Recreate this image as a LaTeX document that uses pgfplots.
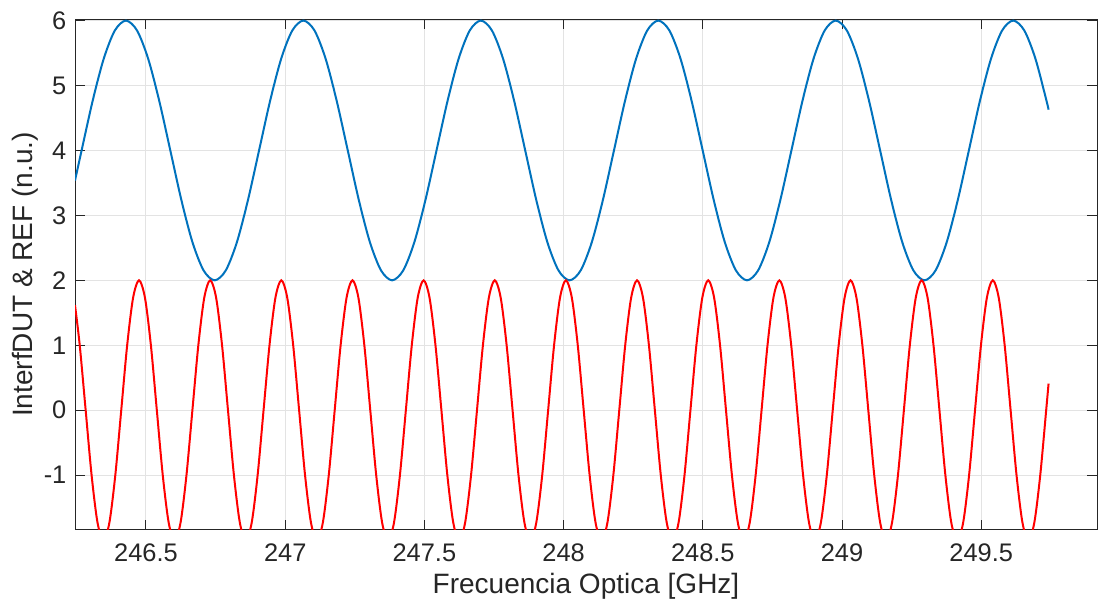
\documentclass[border=0pt]{standalone}
\usepackage{fontspec}
\setmainfont{Liberation Sans}
\usepackage{pgfplots}
\pgfplotsset{compat=1.18}
\definecolor{mblue}{rgb}{0,0.447,0.741}
\definecolor{axgray}{rgb}{0.15,0.15,0.15}
\begin{document}
\begin{tikzpicture}
\begin{axis}[
  scale only axis, width=511pt, height=255.25pt,
  xmin=246.245, xmax=249.916, ymin=-1.842, ymax=6.02,
  xtick={246.5,247,247.5,248,248.5,249,249.5},
  xticklabels={246.5,247,247.5,248,248.5,249,249.5},
  ytick={-1,0,1,2,3,4,5,6},
  yticklabels={-1,0,1,2,3,4,5,6},
  tick align=inside, major tick length=5pt,
  tick style={axgray, line width=0.5pt},
  axis line style={axgray, line width=0.5pt},
  grid=major, major grid style={color=black!11, line width=0.5pt},
  ticklabel style={font=\fontsize{12.7}{15}\selectfont, text=axgray},
  xticklabel style={yshift=-3.5pt},
  yticklabel style={xshift=-0.8pt},
  label style={font=\fontsize{14}{16}\selectfont, text=axgray},
  xlabel={Frecuencia Optica [GHz]},
  ylabel={InterfDUT \& REF (n.u.)},
  xlabel style={at={(axis description cs:0.5,-0.11)}, anchor=center},
  ylabel style={at={(axis description cs:-0.049,0.5)}, anchor=center},
]
\addplot[mblue, line width=1pt, smooth] table {
246.2450 3.5366
246.2687 4
246.3085 4.7654
246.3483 5.4142
246.3882 5.8478
246.4280 6
246.4678 5.8478
246.5077 5.4142
246.5475 4.7654
246.5874 4
246.6272 3.2346
246.6670 2.5858
246.7069 2.1522
246.7467 2
246.7865 2.1522
246.8264 2.5858
246.8662 3.2346
246.9061 4
246.9459 4.7654
246.9857 5.4142
247.0256 5.8478
247.0654 6
247.1052 5.8478
247.1451 5.4142
247.1849 4.7654
247.2248 4
247.2646 3.2346
247.3044 2.5858
247.3443 2.1522
247.3841 2
247.4239 2.1522
247.4638 2.5858
247.5036 3.2346
247.5435 4
247.5833 4.7654
247.6231 5.4142
247.6630 5.8478
247.7028 6
247.7426 5.8478
247.7825 5.4142
247.8223 4.7654
247.8622 4
247.9020 3.2346
247.9418 2.5858
247.9817 2.1522
248.0215 2
248.0613 2.1522
248.1012 2.5858
248.1410 3.2346
248.1809 4
248.2207 4.7654
248.2605 5.4142
248.3004 5.8478
248.3402 6
248.3800 5.8478
248.4199 5.4142
248.4597 4.7654
248.4996 4
248.5394 3.2346
248.5792 2.5858
248.6191 2.1522
248.6589 2
248.6987 2.1522
248.7386 2.5858
248.7784 3.2346
248.8183 4
248.8581 4.7654
248.8979 5.4142
248.9378 5.8478
248.9776 6
249.0174 5.8478
249.0573 5.4142
249.0971 4.7654
249.1370 4
249.1768 3.2346
249.2166 2.5858
249.2565 2.1522
249.2963 2
249.3361 2.1522
249.3760 2.5858
249.4158 3.2346
249.4557 4
249.4955 4.7654
249.5353 5.4142
249.5752 5.8478
249.6150 6
249.6548 5.8478
249.6947 5.4142
249.7345 4.7654
249.7420 4.628
};
\addplot[red, line width=1pt, smooth] table {
246.2450 1.618
246.2620 1
246.2833 0
246.3046 -1
246.3259 -1.732
246.3472 -2
246.3685 -1.732
246.3898 -1
246.4111 0
246.4324 1
246.4537 1.732
246.4750 2
246.4963 1.732
246.5176 1
246.5389 0
246.5602 -1
246.5815 -1.732
246.6028 -2
246.6241 -1.732
246.6454 -1
246.6667 0
246.6880 1
246.7093 1.732
246.7306 2
246.7519 1.732
246.7732 1
246.7945 0
246.8158 -1
246.8371 -1.732
246.8584 -2
246.8797 -1.732
246.9010 -1
246.9223 0
246.9436 1
246.9649 1.732
246.9861 2
247.0074 1.732
247.0287 1
247.0500 0
247.0713 -1
247.0926 -1.732
247.1139 -2
247.1352 -1.732
247.1565 -1
247.1778 0
247.1991 1
247.2204 1.732
247.2417 2
247.2630 1.732
247.2843 1
247.3056 0
247.3269 -1
247.3482 -1.732
247.3695 -2
247.3908 -1.732
247.4121 -1
247.4334 0
247.4547 1
247.4760 1.732
247.4972 2
247.5185 1.732
247.5398 1
247.5611 0
247.5824 -1
247.6037 -1.732
247.6250 -2
247.6463 -1.732
247.6676 -1
247.6889 0
247.7102 1
247.7315 1.732
247.7528 2
247.7741 1.732
247.7954 1
247.8167 0
247.8380 -1
247.8593 -1.732
247.8806 -2
247.9019 -1.732
247.9232 -1
247.9445 0
247.9658 1
247.9871 1.732
248.0083 2
248.0296 1.732
248.0509 1
248.0722 0
248.0935 -1
248.1148 -1.732
248.1361 -2
248.1574 -1.732
248.1787 -1
248.2000 0
248.2213 1
248.2426 1.732
248.2639 2
248.2852 1.732
248.3065 1
248.3278 0
248.3491 -1
248.3704 -1.732
248.3917 -2
248.4130 -1.732
248.4343 -1
248.4556 0
248.4769 1
248.4982 1.732
248.5194 2
248.5407 1.732
248.5620 1
248.5833 0
248.6046 -1
248.6259 -1.732
248.6472 -2
248.6685 -1.732
248.6898 -1
248.7111 0
248.7324 1
248.7537 1.732
248.7750 2
248.7963 1.732
248.8176 1
248.8389 0
248.8602 -1
248.8815 -1.732
248.9028 -2
248.9241 -1.732
248.9454 -1
248.9667 0
248.9880 1
249.0093 1.732
249.0306 2
249.0519 1.732
249.0732 1
249.0945 0
249.1158 -1
249.1371 -1.732
249.1584 -2
249.1797 -1.732
249.2010 -1
249.2223 0
249.2436 1
249.2649 1.732
249.2861 2
249.3074 1.732
249.3287 1
249.3500 0
249.3713 -1
249.3926 -1.732
249.4139 -2
249.4352 -1.732
249.4565 -1
249.4778 0
249.4991 1
249.5204 1.732
249.5417 2
249.5630 1.732
249.5843 1
249.6056 0
249.6269 -1
249.6482 -1.732
249.6695 -2
249.6908 -1.732
249.7121 -1
249.7334 0
249.7420 0.41
};
\end{axis}
\pgfresetboundingbox
\path ([shift={(-37.5pt,-37pt)}]current axis.south west) rectangle ([shift={(0.5pt,9.65pt)}]current axis.north east);
\end{tikzpicture}
\end{document}
